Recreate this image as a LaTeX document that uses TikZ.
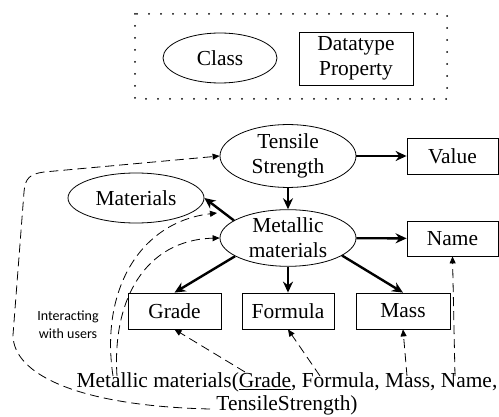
\documentclass[tikz,border=0pt]{standalone}
\usepackage{fontspec}
\setmainfont{Liberation Serif}
\newfontfamily\califont{Carlito}
\usetikzlibrary{arrows.meta,shapes.geometric}
\begin{document}
\begin{tikzpicture}[x=1pt,y=-1pt,
  every node/.style={font=\fontsize{21.4}{25}\selectfont, text=black},
  cls/.style={ellipse, draw, line width=0.8pt, minimum width=136pt, minimum height=50pt, inner sep=0pt, align=center},
  prop/.style={rectangle, draw, line width=0.8pt, inner sep=0pt, align=center},
  rel/.style={line width=2.4pt, -{Stealth[length=11pt,width=10pt]}},
  link/.style={line width=0.8pt, dash pattern=on 9pt off 5pt, -{Triangle[length=7pt,width=6pt]}},
  dotbox/.style={line width=2pt, line cap=round, dash pattern=on 0pt off 12pt},
  note/.style={font=\califont\fontsize{14}{18}\selectfont, align=center}
]
\useasboundingbox (0,0) rectangle (499,417);

% legend
\draw[dotbox] (135,14) rectangle (447,99);
\node[cls, minimum width=114pt] (class) at (220,58) {Class};
\node[prop, minimum width=114pt, minimum height=53pt] (dtp) at (356,58.5) {Datatype\\Property};

% classes
\node[cls] (Materials) at (136,198) {Materials};
\node[cls, minimum height=52pt] (TS) at (288,156) {Tensile\\Strength};
\node[cls] (MM) at (288,238) {Metallic\\materials};

% properties
\node[prop, minimum width=91pt, minimum height=36pt] (Value) at (452.5,156) {Value};
\node[prop, minimum width=91pt, minimum height=35pt] (Name) at (452.5,238.5) {Name};
\node[prop, minimum width=93pt, minimum height=36pt] (Grade) at (174.5,311) {Grade};
\node[prop, minimum width=92pt, minimum height=36pt] (Formula) at (288,311) {Formula};
\node[prop, minimum width=94pt, minimum height=36pt] (Mass) at (403,311) {Mass};

% texts
\node[align=center, inner sep=0pt, font=\fontsize{21.4}{23}\selectfont] (txt) at (287,394) {Metallic materials(\underline{Grade}, Formula, Mass, Name,\\TensileStrength)};
\node[note] (users) at (68,325) {Interacting\\with users};

% relations
\draw[rel] (TS) -- (Value);
\draw[rel] (TS) -- (MM);
\draw[rel] (MM) -- (Name);
\draw[rel] (MM.162) -- (Materials.east);
\draw[rel] (MM.199) -- (Grade.north);
\draw[rel] (MM.south) -- (Formula.north);
\draw[rel] (MM.342) -- (Mass.north);

% dashed links
\coordinate (tg) at (245,372);
\coordinate (tf) at (320,376);
\coordinate (tm) at (407,376);
\coordinate (tn) at (455,376);
\coordinate (ta) at (113,376);
\coordinate (tb) at (117,376);
\coordinate (tt) at (210,409);
\coordinate (sub) at (217,213);

\draw[link] (tg) -- (Grade.south);
\draw[link] (tf) -- (Formula.south);
\draw[link] (tm) -- (Mass.south);
\draw[link] (tn) -- (Name.south);
\draw[link] (ta) .. controls (100,290) and (140,222) .. (sub);
\draw[link] (tb) .. controls (112,300) and (145,240) .. (MM.west);
\draw[link] (tt) .. controls (80,406) and (13,375) .. (13,335) -- (24,192) .. controls (25,178) and (30,174) .. (44,172) -- (TS.west);
\end{tikzpicture}
\end{document}
